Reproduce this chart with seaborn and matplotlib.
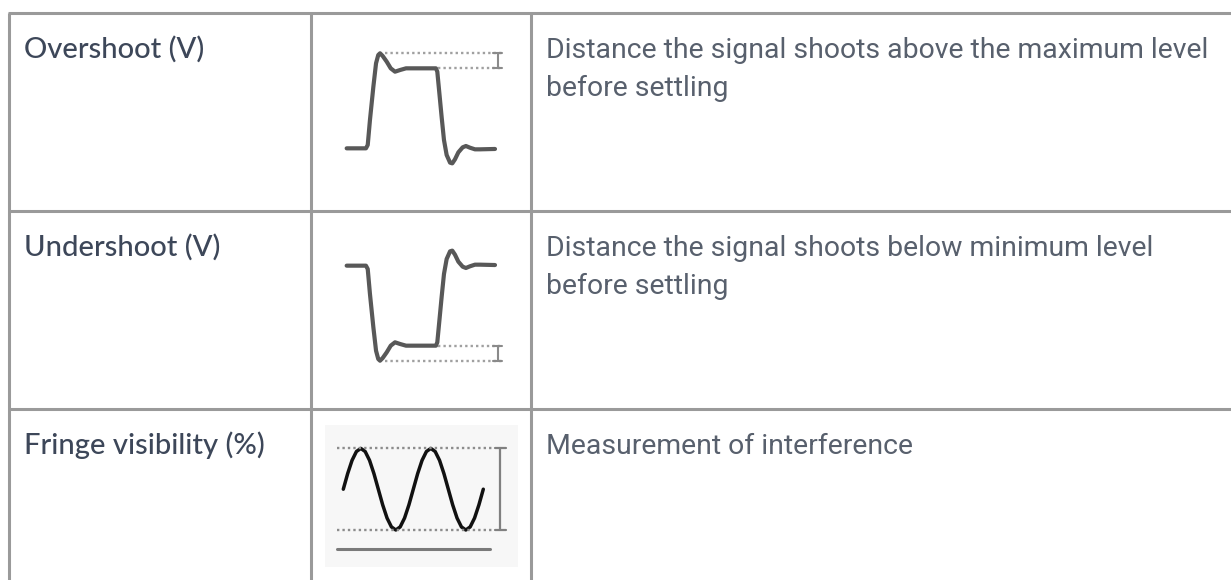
import matplotlib
matplotlib.use("Agg")
import matplotlib.pyplot as plt
import seaborn as sns
import pandas as pd

# ---------------- data ----------------
measurements = ["Overshoot (V)", "Undershoot (V)", "Fringe visibility (%)"]
descriptions = [
    ["Distance the signal shoots above the maximum level", "before settling"],
    ["Distance the signal shoots below minimum level", "before settling"],
    ["Measurement of interference"],
]

# overshoot icon waveform: time (0..1) and level (0 = low, 1 = high)
over_t = [0.0, 0.130, 0.142, 0.157, 0.180, 0.198, 0.213, 0.225, 0.243, 0.270,
          0.297, 0.326, 0.360, 0.400, 0.494, 0.602, 0.611, 0.625, 0.640, 0.656,
          0.674, 0.697, 0.712, 0.730, 0.753, 0.782, 0.804, 0.831, 0.865, 0.899, 1.0]
over_v = [0.0, 0.0, 0.042, 0.354, 0.771, 1.063, 1.167, 1.188, 1.154, 1.083,
          1.0, 0.958, 0.979, 1.0, 1.0, 1.0, 0.958, 0.688, 0.396, 0.104,
          -0.083, -0.179, -0.188, -0.138, -0.05, 0.0125, 0.029, 0.008, -0.0125, -0.0125, -0.008]
# undershoot icon waveform (mirror image of the overshoot step)
under_t = over_t
under_v = [1.0, 1.0, 0.958, 0.646, 0.229, -0.063, -0.167, -0.188, -0.154, -0.083,
           0.0, 0.042, 0.021, 0.0, 0.0, 0.0, 0.042, 0.312, 0.604, 0.896,
           1.083, 1.179, 1.188, 1.138, 1.05, 0.9875, 0.971, 0.992, 1.0125, 1.0125, 1.008]
# fringe icon: two periods of a sine, sampled every 1/16 period
fringe_phase = [k / 16 for k in range(33)]
fringe_v = [0, .383, .707, .924, 1, .924, .707, .383, 0, -.383, -.707, -.924, -1, -.924, -.707, -.383,
            0, .383, .707, .924, 1, .924, .707, .383, 0, -.383, -.707, -.924, -1, -.924, -.707, -.383, 0]

# ---------------- style ----------------
sns.set_theme(style="white")
plt.rcParams["font.family"] = ["Lato", "DejaVu Sans"]

W, H = 1231, 580
fig = plt.figure(figsize=(W / 100, H / 100), dpi=100)
ax = fig.add_axes([0, 0, 1, 1])
ax.set_xlim(0, W)
ax.set_ylim(H, 0)
ax.axis("off")

GRID = "#9a9a9a"
col_x = [9, 311, 531]
row_y = [13, 211, 409]
for y in row_y:
    ax.plot([col_x[0] - 1.5, W], [y, y], color=GRID, lw=2.2, solid_capstyle="butt")
for x in col_x:
    ax.plot([x, x], [row_y[0], H], color=GRID, lw=2.2, solid_capstyle="butt")

# fringe icon background
ax.add_patch(plt.Rectangle((325, 425), 193, 142, facecolor="#f7f7f7", edgecolor="none", zorder=0))

LEFT_COLOR = "#3d4759"
DESC_COLOR = "#58606d"


def fit_size(text, family, target, weight="normal"):
    t = ax.text(0, 0, text, fontsize=20, family=family, weight=weight)
    fig.canvas.draw()
    w = t.get_window_extent(renderer=fig.canvas.get_renderer()).width
    t.remove()
    return 20 * target / w


left_fam = ["Lato", "DejaVu Sans"]
left_fs = fit_size(measurements[0], left_fam, 180, weight="medium")
desc_fam = ["Roboto", "DejaVu Sans"]
desc_fs = fit_size(descriptions[0][0], desc_fam, 662)

for i, (m, d) in enumerate(zip(measurements, descriptions)):
    top = row_y[i]
    ax.text(24, top + 44.7, m, fontsize=left_fs, color=LEFT_COLOR, va="baseline",
            family=left_fam, weight="medium")
    for j, line in enumerate(d):
        ax.text(546, top + 44.5 + 38 * j, line, fontsize=desc_fs, color=DESC_COLOR,
                va="baseline", family=desc_fam)


def px_axes(x0, x1, y0, y1):
    """Create an axes spanning pixel box (x0..x1, y0..y1 from top)."""
    a = fig.add_axes([x0 / W, 1 - y1 / H, (x1 - x0) / W, (y1 - y0) / H])
    a.axis("off")
    a.patch.set_alpha(0)
    return a


WAVE = "#585858"
DOT = "#a0a0a0"
BAR = "#8a8a8a"
dot_style = (0, (1.0, 1.3))
DOT_LW = 1.7


def style_last(a):
    ln = a.lines[-1]
    ln.set_solid_joinstyle("round")
    ln.set_solid_capstyle("round")
    ln.set_clip_on(False)


# ---- overshoot icon ----
a1 = px_axes(346.67, 495, 68.33, 148.33)
a1.set_xlim(0, 1)
a1.set_ylim(0, 1)
sns.lineplot(x=over_t, y=over_v, ax=a1, sort=False, color=WAVE, lw=3.0, estimator=None)
style_last(a1)
peak = max(over_v)
a1.plot([0.258, 1.045], [peak, peak], color=DOT, lw=DOT_LW, ls=dot_style, clip_on=False)
a1.plot([0.615, 1.045], [1.0, 1.0], color=DOT, lw=DOT_LW, ls=dot_style, clip_on=False)
a1.plot([1.018, 1.018], [1.0, peak], color=BAR, lw=1.5, clip_on=False)
for yy in (1.0, peak):
    a1.plot([0.985, 1.05], [yy, yy], color=BAR, lw=1.5, clip_on=False)

# ---- undershoot icon ----
a2 = px_axes(346.67, 495, 265.67, 345.67)
a2.set_xlim(0, 1)
a2.set_ylim(0, 1)
sns.lineplot(x=under_t, y=under_v, ax=a2, sort=False, color=WAVE, lw=3.0, estimator=None)
style_last(a2)
trough = min(under_v)
a2.plot([0.258, 1.045], [trough, trough], color=DOT, lw=DOT_LW, ls=dot_style, clip_on=False)
a2.plot([0.615, 1.045], [0.0, 0.0], color=DOT, lw=DOT_LW, ls=dot_style, clip_on=False)
a2.plot([1.018, 1.018], [0.0, trough], color=BAR, lw=1.5, clip_on=False)
for yy in (0.0, trough):
    a2.plot([0.985, 1.05], [yy, yy], color=BAR, lw=1.5, clip_on=False)

# ---- fringe icon ----
a3 = px_axes(343.3, 483.3, 448.4, 530)
a3.set_xlim(0, 2)
a3.set_ylim(-1, 1)
sns.lineplot(x=fringe_phase, y=fringe_v, ax=a3, sort=False, color="#111111", lw=2.5, estimator=None)
style_last(a3)
for yy in (1, -1):
    a3.plot([-0.094, 2.12], [yy, yy], color="#8c8c8c", lw=DOT_LW, ls=dot_style, clip_on=False)
a3.plot([2.238, 2.238], [-1, 1], color="#808080", lw=1.6, clip_on=False)
for yy in (1, -1):
    a3.plot([2.16, 2.32], [yy, yy], color="#808080", lw=1.6, clip_on=False)
a3.plot([-0.094, 2.095], [-1.466, -1.466], color="#7a7a7a", lw=2.2, clip_on=False,
        solid_capstyle="round")

fig.savefig("out.png", dpi=100)
